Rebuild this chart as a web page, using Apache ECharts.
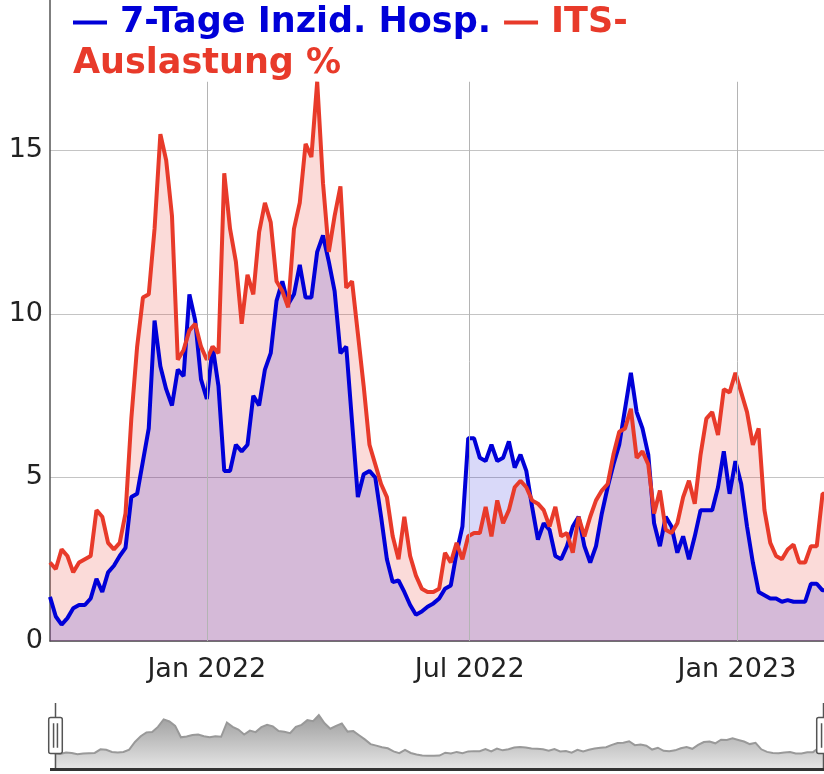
<!DOCTYPE html>
<html><head><meta charset="utf-8">
<script src="https://cdn.jsdelivr.net/npm/echarts@6/dist/echarts.min.js"></script>
<style>html,body{margin:0;padding:0;background:#fff}#c{width:824px;height:774px}</style>
</head><body><div id="c"></div>
<script>
// ---- data ----
const firstDate = '2021-09-15';
const stepDays = 4;
const axisStart = '2021-09-15';
const axisEnd = '2023-03-02';
const xTickDates = ['2022-01-01', '2022-07-01', '2023-01-01'];
const xTickLabels = ['Jan 2022', 'Jul 2022', 'Jan 2023'];
const yMin = 0, yMax = 19.6, yStep = 5;
const seriesNames = ['7-Tage Inzid. Hosp.', 'ITS-Auslastung %'];

const hospValues = [
  1.35, 0.75, 0.5, 0.7, 1.0, 1.1, 1.1, 1.3, 1.9, 1.5,
  2.1, 2.3, 2.6, 2.85, 4.4, 4.5, 5.5, 6.5, 9.8, 8.4,
  7.7, 7.2, 8.3, 8.1, 10.6, 9.8, 8.0, 7.4, 9.0, 7.8,
  5.2, 5.2, 6.0, 5.8, 6.0, 7.5, 7.2, 8.3, 8.8, 10.4,
  11.0, 10.3, 10.6, 11.5, 10.5, 10.5, 11.9, 12.4, 11.6, 10.7,
  8.8, 9.0, 6.7, 4.4, 5.1, 5.2, 5.0, 3.8, 2.5, 1.8,
  1.85, 1.5, 1.1, 0.8, 0.9, 1.05, 1.15, 1.3, 1.6, 1.7,
  2.7, 3.5, 6.2, 6.2, 5.6, 5.5, 6.0, 5.5, 5.6, 6.1,
  5.3, 5.7, 5.2, 4.1, 3.1, 3.6, 3.4, 2.6, 2.5, 2.9,
  3.5, 3.8, 2.9, 2.4, 2.9, 3.9, 4.7, 5.4, 6.0, 7.1,
  8.2, 7.0, 6.5, 5.7, 3.6, 2.9, 3.8, 3.5, 2.7, 3.2,
  2.5, 3.2, 4.0, 4.0, 4.0, 4.7, 5.8, 4.5, 5.5, 4.8,
  3.5, 2.4, 1.5, 1.4, 1.3, 1.3, 1.2, 1.25, 1.2, 1.2,
  1.2, 1.75, 1.75, 1.55, 1.55
];
const itsValues = [
  2.4, 2.2, 2.8, 2.6, 2.1, 2.4, 2.5, 2.6, 4.0, 3.8,
  3.0, 2.8, 3.0, 3.9, 6.8, 9.0, 10.5, 10.6, 12.6, 15.5,
  14.7, 13.0, 8.6, 8.9, 9.5, 9.7, 9.0, 8.6, 9.0, 8.8,
  14.3, 12.6, 11.6, 9.7, 11.2, 10.6, 12.5, 13.4, 12.8, 11.0,
  10.7, 10.2, 12.6, 13.4, 15.2, 14.8, 17.1, 14.0, 11.9, 13.0,
  13.9, 10.8, 11.0, 9.4, 7.8, 6.0, 5.4, 4.8, 4.4, 3.2,
  2.5, 3.8, 2.6, 2.0, 1.6, 1.5, 1.5, 1.6, 2.7, 2.4,
  3.0, 2.5, 3.2, 3.3, 3.3, 4.1, 3.2, 4.3, 3.6, 4.0,
  4.7, 4.9, 4.7, 4.3, 4.2, 4.0, 3.5, 4.1, 3.2, 3.3,
  2.7, 3.8, 3.2, 3.8, 4.3, 4.6, 4.8, 5.7, 6.4, 6.5,
  7.1, 5.6, 5.8, 5.4, 3.9, 4.6, 3.4, 3.3, 3.6, 4.4,
  4.9, 4.2, 5.7, 6.8, 7.0, 6.3, 7.7, 7.6, 8.2, 7.6,
  7.0, 6.0, 6.5, 4.0, 3.0, 2.6, 2.5, 2.8, 2.95, 2.4,
  2.4, 2.9, 2.9, 4.5, 4.5
];

// ---- helpers ----
function ts(s) { const p = s.split('-').map(Number); return new Date(p[0], p[1] - 1, p[2]).getTime(); }
function dateAt(i) { const p = firstDate.split('-').map(Number); return new Date(p[0], p[1] - 1, p[2] + i * stepDays).getTime(); }
const hospData = hospValues.map((v, i) => [dateAt(i), v]);
const itsData = itsValues.map((v, i) => [dateAt(i), v]);
const tickTs = xTickDates.map(ts);

const blue = '#0000d8', red = '#e83a2a';
const font = 'DejaVu Sans';
const gridLineTop = 17.1;

const chart = echarts.init(document.getElementById('c'), null, { renderer: 'canvas' });
const shadowArea = new echarts.graphic.LinearGradient(0, 0, 0, 1, [
  { offset: 0, color: '#e4e4e4' }, { offset: 1, color: '#9e9e9e' }
]);
const handlePath = 'path://M0,0V15M0,52V67M-5,15h10a2,2,0,0,1,2,2v33a2,2,0,0,1-2,2h-10a2,2,0,0,1-2-2v-33a2,2,0,0,1,2-2ZM-2,21V46M2,21V46';

chart.setOption({
  animation: false,
  backgroundColor: '#fff',
  grid: { left: 50, right: 0, top: 0, bottom: 133, containLabel: false },
  xAxis: {
    type: 'value', min: ts(axisStart), max: ts(axisEnd), scale: true,
    axisLine: { show: true, onZero: false, lineStyle: { color: '#555', width: 1.5 } },
    axisTick: { show: false },
    splitLine: { show: false },
    axisLabel: {
      customValues: tickTs,
      formatter: function (v) { const k = tickTs.indexOf(+v); return k >= 0 ? xTickLabels[k] : ''; },
      fontFamily: font, fontSize: 27, color: '#222', margin: 15, hideOverlap: false
    }
  },
  yAxis: {
    type: 'value', min: yMin, max: yMax, interval: yStep,
    axisLine: { show: true, lineStyle: { color: '#555', width: 1.5 } },
    axisTick: { show: false },
    splitLine: { show: true, showMaxLine: false, lineStyle: { color: '#c4c4c4', width: 1 } },
    axisLabel: { showMaxLabel: false, fontFamily: font, fontSize: 27, color: '#222', margin: 7 }
  },
  legend: {
    left: 73, top: 5, padding: 0, itemGap: 13, itemWidth: 34, itemHeight: 4, icon: 'rect',
    data: [
      { name: seriesNames[0], itemStyle: { color: blue }, textStyle: { color: blue } },
      { name: seriesNames[1], itemStyle: { color: red }, textStyle: { color: red } }
    ],
    formatter: function (n) { return n === seriesNames[1] ? n.slice(0, 4) : n; },
    textStyle: { fontFamily: font, fontWeight: 'bold', fontSize: 35, padding: [0, 0, 0, 8] },
    selectedMode: false
  },
  graphic: [
    { type: 'text', x: 73, y: 64, z: 100,
      style: { text: seriesNames[1].slice(4), fill: red, font: 'bold 35px "DejaVu Sans"', verticalAlign: 'middle' } },
    { type: 'rect', shape: { x: 50, y: 768, width: 774, height: 3 }, style: { fill: '#333' } }
  ],
  dataZoom: [{
    type: 'slider', xAxisIndex: 0, start: 0, end: 100, filterMode: 'none',
    left: 52, right: 2, top: 703, height: 65,
    showDetail: false, brushSelect: false, moveHandleSize: 0,
    borderColor: 'transparent', backgroundColor: 'transparent', fillerColor: 'rgba(0,0,0,0)',
    handleIcon: handlePath, handleSize: '100%',
    handleStyle: { color: '#fff', borderColor: '#555', borderWidth: 1.5 },
    emphasis: { handleStyle: { color: '#fff', borderColor: '#555', borderWidth: 1.5 } },
    dataBackground: { lineStyle: { color: '#999', width: 2, opacity: 1 }, areaStyle: { color: shadowArea, opacity: 1 } },
    selectedDataBackground: { lineStyle: { color: '#999', width: 2, opacity: 1 }, areaStyle: { color: shadowArea, opacity: 1 } }
  }],
  series: [
    { name: seriesNames[1], type: 'line', data: itsData, showSymbol: false, silent: true,
      lineStyle: { width: 0 }, itemStyle: { color: red }, areaStyle: { color: red, opacity: 0.18 }, z: 2 },
    { name: seriesNames[0], type: 'line', data: hospData, showSymbol: false, silent: true,
      lineStyle: { width: 0 }, itemStyle: { color: blue }, areaStyle: { color: blue, opacity: 0.15 }, z: 2 },
    { name: 'gridlines', type: 'line', data: [], z: 1, silent: true,
      markLine: { silent: true, symbol: 'none', label: { show: false },
        lineStyle: { color: '#b4b4b4', width: 1, type: 'solid' },
        data: tickTs.map(t => [{ coord: [t, 0] }, { coord: [t, gridLineTop] }]) } },
    { name: seriesNames[0], type: 'line', data: hospData, showSymbol: false,
      lineStyle: { width: 4, color: blue }, itemStyle: { color: blue }, z: 3 },
    { name: seriesNames[1], type: 'line', data: itsData, showSymbol: false,
      lineStyle: { width: 4, color: red }, itemStyle: { color: red }, z: 4 }
  ]
});
</script>
</body></html>
